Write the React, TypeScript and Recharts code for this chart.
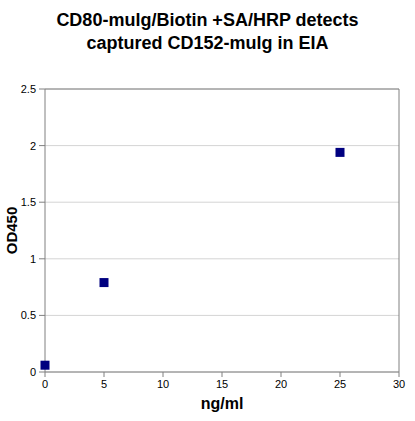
import React from "react";
import {
  ScatterChart,
  Scatter,
  XAxis,
  YAxis,
  CartesianGrid,
  ReferenceLine,
} from "recharts";

const concentrations = [0, 5, 25];
const od450Values = [0.06, 0.79, 1.94];
const xTicks = [0, 5, 10, 15, 20, 25, 30];
const yTicks = [0, 0.5, 1, 1.5, 2, 2.5];
const titleLines = ["CD80-mulg/Biotin +SA/HRP detects", "captured CD152-mulg in EIA"];
const xLabel = "ng/ml";
const yLabel = "OD450";

const data = concentrations.map((x, i) => ({ x, y: od450Values[i] }));

const SquareMarker = (props: any) => {
  const { cx, cy } = props;
  if (cx == null || cy == null) return null;
  const s = 9;
  return <rect x={cx - s / 2} y={cy - s / 2} width={s} height={s} fill="#000080" />;
};

const font = "Arial, 'Liberation Sans', sans-serif";

const YLabel = (props: any) => {
  const vb = props.viewBox || {};
  const cy = (vb.y ?? 0) + (vb.height ?? 0) / 2;
  return (
    <text
      x={17}
      y={cy}
      transform={`rotate(-90, 17, ${cy})`}
      textAnchor="middle"
      fill="#000"
      fontSize={15}
      fontWeight="bold"
      fontFamily={font}
    >
      {yLabel}
    </text>
  );
};

const XLabel = (props: any) => {
  const vb = props.viewBox || {};
  const cx = (vb.x ?? 0) + (vb.width ?? 0) / 2;
  return (
    <text x={cx} y={409} textAnchor="middle" fill="#000" fontSize={16} fontWeight="bold" fontFamily={font}>
      {xLabel}
    </text>
  );
};

export default function App() {
  return (
    <div style={{ position: "absolute", left: 0, top: 0, width: 415, height: 421, background: "#fff" }}>
      <div
        style={{
          position: "absolute",
          left: 0,
          top: 9,
          width: 415,
          textAlign: "center",
          fontFamily: font,
          fontWeight: "bold",
          fontSize: 18,
          lineHeight: "23px",
          color: "#000",
        }}
      >
        {titleLines.map((t) => (
          <div key={t}>{t}</div>
        ))}
      </div>
      <ScatterChart
        width={415}
        height={421}
        margin={{ top: 89, right: 16, bottom: 19, left: 0 }}
        style={{ position: "absolute", left: 0, top: 0 }}
      >
        <CartesianGrid horizontal vertical={false} stroke="#d4d4d4" />
        <XAxis
          type="number"
          dataKey="x"
          domain={[0, 30]}
          ticks={xTicks}
          interval={0}
          height={30}
          stroke="#808080"
          tickSize={5}
          tickMargin={3}
          tick={{ fill: "#000", fontSize: 11, fontFamily: font }}
          label={<XLabel />}
        />
        <YAxis
          type="number"
          dataKey="y"
          domain={[0, 2.5]}
          ticks={yTicks}
          interval={0}
          width={45}
          stroke="#808080"
          tickSize={6}
          tickMargin={3}
          tick={{ fill: "#000", fontSize: 11, fontFamily: font }}
          label={<YLabel />}
        />
        <ReferenceLine y={2.5} stroke="#808080" ifOverflow="extendDomain" />
        <ReferenceLine x={30} stroke="#808080" ifOverflow="extendDomain" />
        <Scatter data={data} shape={<SquareMarker />} isAnimationActive={false} />
      </ScatterChart>
    </div>
  );
}
